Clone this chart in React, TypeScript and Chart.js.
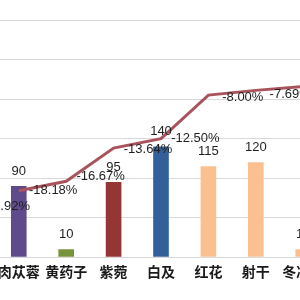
import React, { useEffect, useRef } from "react";
import { Chart, registerables } from "chart.js";

Chart.register(...registerables);

const categories = ["肉苁蓉", "黄药子", "紫菀", "白及", "红花", "射干", "冬凌草"];
const barValues = [90, 10, 95, 140, 115, 120, 10];
const barColors = ["#5f4b8b", "#77933c", "#963634", "#33609a", "#fac090", "#fac090", "#fac090"];
const trendValues = [84, 96, 138, 150, 205, 211, 216];
const pctChange = [-19.92, -18.18, -16.67, -13.64, -12.5, -8.0, -7.69];
const yMin = 0;
const yMax = 300;
const yStep = 50;

const labelPlugin = {
  id: "valueLabels",
  afterDatasetsDraw(chart: any) {
    const ctx = chart.ctx;
    ctx.save();
    ctx.font = '13px "Liberation Sans", Arial, sans-serif';
    ctx.fillStyle = "#1f1f1f";
    ctx.textAlign = "center";
    ctx.textBaseline = "middle";
    const barMeta = chart.getDatasetMeta(1);
    barMeta.data.forEach((el: any, i: number) => {
      ctx.fillText(String(barValues[i]), el.x, el.y - 15);
    });
    const y2 = chart.scales.y2;
    const lineMeta = chart.getDatasetMeta(0);
    lineMeta.data.forEach((el: any, i: number) => {
      ctx.fillText(pctChange[i].toFixed(2) + "%", el.x - 13, y2.getPixelForValue(pctChange[i]));
    });
    ctx.restore();
  },
};

export default function App() {
  const ref = useRef<HTMLCanvasElement>(null);
  useEffect(() => {
    if (!ref.current) return;
    const chart = new Chart(ref.current, {
      type: "bar",
      data: {
        labels: categories,
        datasets: [
          {
            type: "line",
            data: trendValues,
            borderColor: "#a9545d",
            borderWidth: 3,
            pointRadius: 0,
            tension: 0,
            order: 0,
            yAxisID: "y",
          } as any,
          {
            type: "bar",
            data: barValues,
            backgroundColor: barColors,
            barPercentage: 0.33,
            categoryPercentage: 1,
            order: 1,
            yAxisID: "y",
          },
        ],
      },
      options: {
        responsive: false,
        animation: false,
        layout: { padding: { top: 20, bottom: 14, left: 0, right: 0 } },
        plugins: { legend: { display: false }, tooltip: { enabled: false } },
        scales: {
          x: {
            grid: { display: false, drawTicks: false },
            border: { display: false },
            ticks: {
              padding: 6,
              autoSkip: false,
              maxRotation: 0,
              color: "#1a1a1a",
              font: { family: '"Noto Sans CJK SC"', size: 14, weight: "bold" },
            },
          },
          y: {
            min: yMin,
            max: yMax,
            ticks: { display: false, stepSize: yStep },
            grid: { color: "#d9d9d9", drawTicks: false, lineWidth: 1 },
            border: { display: false },
          },
          y2: {
            display: false,
            min: -25.5,
            max: 0.5,
          },
        },
      },
      plugins: [labelPlugin],
    });
    return () => chart.destroy();
  }, []);
  return (
    <div
      style={{
        position: "fixed",
        left: 0,
        top: 0,
        width: 300,
        height: 300,
        overflow: "hidden",
        background: "#fff",
      }}
    >
      <canvas ref={ref} width={338} height={300} style={{ position: "absolute", left: -8, top: 0 }} />
    </div>
  );
}
